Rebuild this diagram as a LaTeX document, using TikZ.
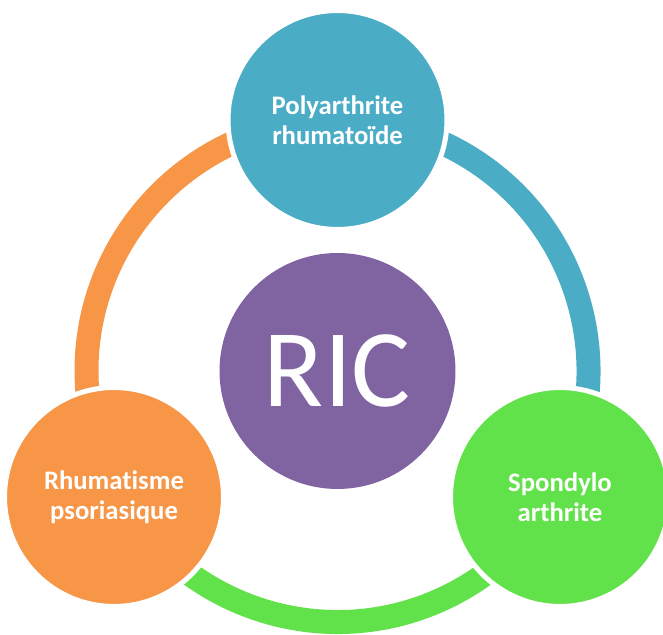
\documentclass[tikz,border=0pt]{standalone}
\usepackage{fontspec}
\setmainfont{Carlito}[Ligatures=NoCommon]
\usepackage{tikz}
\usetikzlibrary{positioning}
\definecolor{ricpurple}{HTML}{8064A2}
\definecolor{ricblue}{HTML}{4BACC6}
\definecolor{ricorange}{HTML}{F79646}
\definecolor{ricgreen}{HTML}{62E24A}

\begin{document}
\begin{tikzpicture}[x=0.02cm, y=0.02cm,
	disease/.style={circle, draw=white, line width=0.1cm, inner sep=0pt, minimum size=4.38cm, text=white, align=center, font=\fontsize{15.2}{17.1}\selectfont\bfseries},
	core/.style={circle, fill=ricpurple, inner sep=0pt, minimum size=4.72cm, text=white, font=\fontsize{63}{63}\selectfont},
	ringarc/.style={line width=0.48cm}
]

\def \xr{251} % ring radius

\useasboundingbox (0,0) rectangle (663,635);

\node[core] (ric) at (337.5,264) {RIC};

% ring, drawn before the outer circles so they cover its ends
\draw[ringarc, ricorange] ([shift={(90:\xr)}]ric.center) arc[start angle=90, end angle=210, radius=\xr];
\draw[ringarc, ricgreen] ([shift={(210:\xr)}]ric.center) arc[start angle=210, end angle=330, radius=\xr];
\draw[ringarc, ricblue] ([shift={(-30:\xr)}]ric.center) arc[start angle=-30, end angle=90, radius=\xr];

\node[disease, fill=ricblue] (polyarthrite) at (337.5,515) {Polyarthrite\\rhumatoïde};
\node[disease, fill=ricorange] (rhumatisme) at (114,138) {Rhumatisme\\psoriasique};
\node[disease, fill=ricgreen] (spondylo) at (560,138) {Spondylo\\arthrite};

\end{tikzpicture}
\end{document}
